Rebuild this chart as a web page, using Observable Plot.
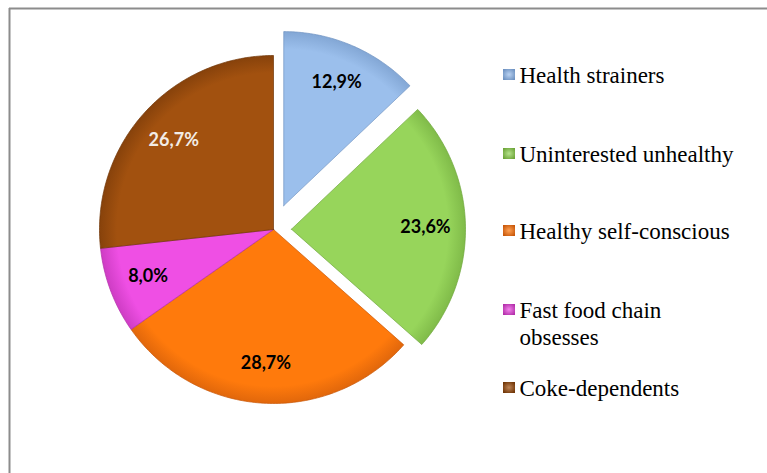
<!DOCTYPE html>
<html>
<head>
<meta charset="utf-8">
<script src="https://cdn.jsdelivr.net/npm/d3@7"></script>
<script src="https://cdn.jsdelivr.net/npm/@observablehq/plot@0.6"></script>
</head>
<body style="margin:0">
<div id="chart"></div>
<script>
// ---- data ----
const segments = ["Health strainers", "Uninterested unhealthy", "Healthy self-conscious", "Fast food chain obsesses", "Coke-dependents"];
const legendLines = [["Health strainers"], ["Uninterested unhealthy"], ["Healthy self-conscious"], ["Fast food chain", "obsesses"], ["Coke-dependents"]];
const shares = [12.9, 23.6, 28.7, 8.0, 26.7];
const valueLabels = ["12,9%", "23,6%", "28,7%", "8,0%", "26,7%"];
const colors = ["#9bbfec", "#97d55b", "#ff7a0c", "#ef4fe4", "#a2510f"];
const darkColors = ["#6f93c2", "#6ea63a", "#c9580a", "#b32faa", "#713607"];
const labelColors = ["#000000", "#000000", "#000000", "#000000", "#f3ece6"];
const explodeBy = [26, 18, 0, 0, 0];

// ---- layout (pixels) ----
const W = 767, H = 473;
const cx = 273, cy = 229, R = 174, labelR = 134;
const total = d3.sum(shares);

// build slice polygons
const slices = [];
let acc = 0;
shares.forEach((v, i) => {
  const a0 = acc / total * 2 * Math.PI;
  acc += v;
  const a1 = acc / total * 2 * Math.PI;
  const mid = (a0 + a1) / 2;
  const ox = cx + explodeBy[i] * Math.sin(mid);
  const oy = cy - explodeBy[i] * Math.cos(mid);
  const pts = [{x: ox, y: oy}];
  const n = Math.max(8, Math.ceil((a1 - a0) / (Math.PI / 180)));
  for (let k = 0; k <= n; k++) {
    const a = a0 + (a1 - a0) * k / n;
    pts.push({x: ox + R * Math.sin(a), y: oy - R * Math.cos(a)});
  }
  pts.push({x: ox, y: oy});
  slices.push({
    name: segments[i], pts, ox, oy,
    lx: ox + labelR * Math.sin(mid), ly: oy - labelR * Math.cos(mid),
    label: valueLabels[i], labelColor: labelColors[i]
  });
});

// legend rows
const legendBaselines = [81, 160, 237, 316, 394];
const legendText = [];
const legendKeys = [];
legendLines.forEach((lines, i) => {
  lines.forEach((t, j) => legendText.push({x: 519, y: legendBaselines[i] + j * 27, t}));
  legendKeys.push({i, x1: 503, x2: 515, y1: legendBaselines[i] - 12, y2: legendBaselines[i] - 1});
});

const marks = [
  Plot.ruleY([8], {x1: 9, x2: W, stroke: "#8c8c8c", strokeWidth: 2}),
  Plot.ruleX([9], {y1: 8, y2: H, stroke: "#8c8c8c", strokeWidth: 2}),
];
slices.forEach((s, i) => {
  marks.push(Plot.line(s.pts, {x: "x", y: "y", fill: `url(#grad${i})`, stroke: darkColors[i], strokeWidth: 1, strokeOpacity: 0.7, curve: "linear-closed"}));
});
marks.push(Plot.text(slices, {x: "lx", y: "ly", text: "label", fill: "labelColor", fontFamily: "Lato", fontWeight: "bold", fontSize: 18}));
marks.push(Plot.rect(legendKeys, {x1: "x1", x2: "x2", y1: "y1", y2: "y2", fill: d => `url(#key${d.i})`}));
legendText.forEach(d => {
  marks.push(Plot.text([d], {x: "x", y: "y", text: "t", textAnchor: "start", dy: -6, fontFamily: "Times New Roman", fontSize: 23}));
});

const chart = Plot.plot({
  width: W, height: H,
  margin: 0,
  x: {domain: [0, W], axis: null},
  y: {domain: [0, H], reverse: true, axis: null},
  marks
});

// gradients for the bevelled look
let defs = "";
slices.forEach((s, i) => {
  defs += `<radialGradient id="grad${i}" gradientUnits="userSpaceOnUse" cx="${s.ox}" cy="${s.oy}" r="${R}">
    <stop offset="0" stop-color="${colors[i]}"/>
    <stop offset="0.9" stop-color="${colors[i]}"/>
    <stop offset="1" stop-color="${d3.interpolateRgb(colors[i], darkColors[i])(0.55)}"/>
  </radialGradient>
  <radialGradient id="key${i}" cx="0.5" cy="0.5" r="0.6">
    <stop offset="0" stop-color="${d3.interpolateRgb(colors[i], "#ffffff")(0.3)}"/>
    <stop offset="1" stop-color="${darkColors[i]}"/>
  </radialGradient>`;
});
chart.insertAdjacentHTML("afterbegin", `<defs>${defs}</defs>`);
document.getElementById("chart").appendChild(chart);
</script>
</body>
</html>
